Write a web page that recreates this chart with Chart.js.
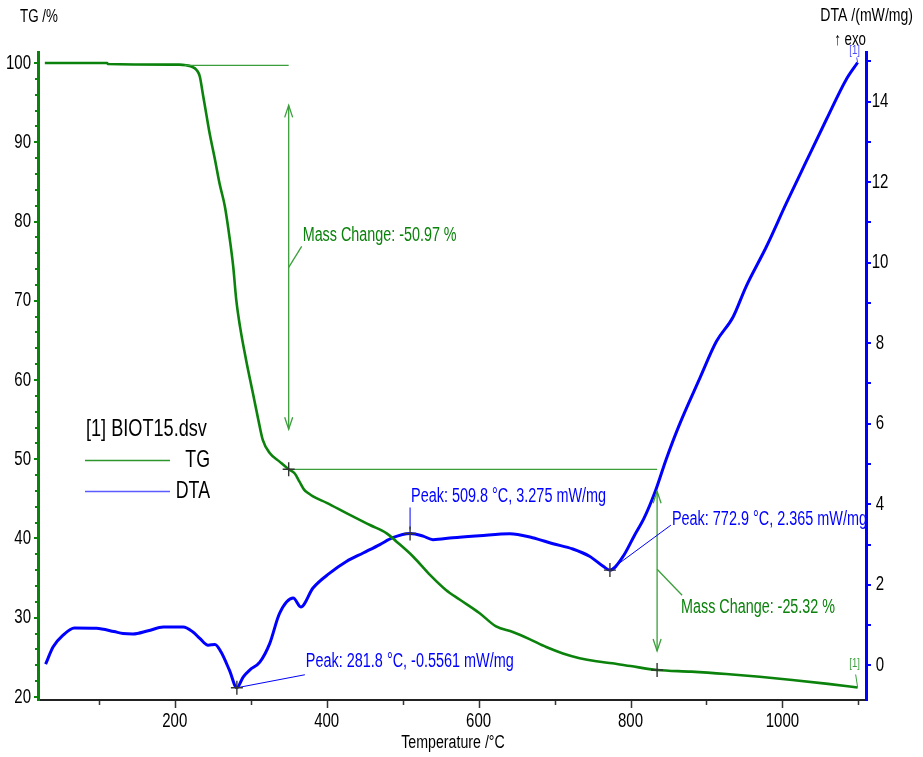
<!DOCTYPE html>
<html>
<head>
<meta charset="utf-8">
<title>BIOT15 TG / DTA</title>
<script src="https://cdn.jsdelivr.net/npm/chart.js@4.4.1/dist/chart.umd.min.js"></script>
<style>
  html, body { margin: 0; padding: 0; background: #ffffff; }
  #wrap { width: 923px; height: 757px; position: relative; }
</style>
</head>
<body>
<div id="wrap"><canvas id="c" width="923" height="757"></canvas></div>
<script>
// ---- measurement data (sample BIOT15) ----
const tgTemp = [29, 111, 112, 206, 215, 222, 229, 233, 237, 242, 246, 253, 259, 266, 272, 277, 281, 286, 294, 303, 310, 316, 325, 338, 350, 358, 364, 370, 376, 382, 400, 426, 457, 479, 492, 514, 536, 557, 575, 601, 623, 645, 667, 689, 711, 733, 755, 776, 800, 835, 880, 926, 970, 1013, 1060, 1099];
const tgMass = [100, 100, 99.87, 99.8, 99.72, 99.55, 99.1, 98.3, 96.1, 93.3, 91.1, 87.8, 84.8, 81.9, 78.1, 74.3, 70.1, 66.7, 62.5, 58.3, 55.0, 52.4, 50.8, 49.7, 48.73, 48.2, 47.2, 46.2, 45.7, 45.3, 44.5, 43.2, 41.7, 40.65, 39.6, 37.7, 35.4, 33.5, 32.3, 30.6, 28.9, 28.2, 27.3, 26.3, 25.5, 24.9, 24.5, 24.25, 23.9, 23.41, 23.2, 22.9, 22.55, 22.15, 21.65, 21.2];

const dtaTemp = [30, 40, 53, 68, 97, 120, 132, 145, 165, 185, 211, 224, 233, 244, 253, 261, 272, 281.8, 290, 299, 312, 325, 338, 356, 366, 382, 404, 426, 448, 470, 487, 509.8, 527, 540, 566, 601, 641, 671, 698, 724, 746, 764, 772.9, 790, 805, 818, 832, 847, 864, 891, 913, 935, 952, 979, 1005, 1031, 1058, 1084, 1099];
const dtaSignal = [0.03, 0.46, 0.75, 0.93, 0.92, 0.84, 0.79, 0.78, 0.86, 0.95, 0.95, 0.83, 0.67, 0.5, 0.52, 0.33, -0.12, -0.5561, -0.29, -0.11, 0.08, 0.54, 1.29, 1.67, 1.45, 1.92, 2.29, 2.58, 2.79, 3.0, 3.17, 3.275, 3.21, 3.12, 3.17, 3.22, 3.27, 3.17, 3.02, 2.89, 2.71, 2.46, 2.365, 2.7, 3.22, 3.66, 4.29, 5.12, 5.96, 7.12, 8.04, 8.65, 9.4, 10.4, 11.47, 12.5, 13.56, 14.55, 14.97];

// evaluated DTA peaks
const peakTemps = [281.8, 509.8, 772.9];
const peakValues = [-0.5561, 3.275, 2.365];

// evaluated mass-change steps
const stepStartMass = 99.70;
const stepTemps = [350, 835];
const stepChanges = [-50.97, -25.32];

// axis ticks
const xTicks = [100, 200, 300, 400, 500, 600, 700, 800, 900, 1000, 1100];
const xLabels = [200, 400, 600, 800, 1000];
const tgTicks = [20, 22, 24, 26, 28, 30, 32, 34, 36, 38, 40, 42, 44, 46, 48, 50, 52, 54, 56, 58, 60, 62, 64, 66, 68, 70, 72, 74, 76, 78, 80, 82, 84, 86, 88, 90, 92, 94, 96, 98, 100];
const tgLabels = [20, 30, 40, 50, 60, 70, 80, 90, 100];
const dtaTicks = [0, 1, 2, 3, 4, 5, 6, 7, 8, 9, 10, 11, 12, 13, 14, 15];
const dtaLabels = [0, 2, 4, 6, 8, 10, 12, 14];

const FONT = '"Liberation Sans", Arial, sans-serif';
const NARROW = 0.74;           // horizontal squeeze for a narrow sans look
const GREEN = '#0b820b';
const GREEN_LIGHT = '#3a9f3a';
const BLUE = '#0000ff';

function pts(xs, ys) { return xs.map((x, i) => ({ x: x, y: ys[i] })); }

// condensed text helper
function text(ctx, str, x, y, size, color, align) {
  ctx.save();
  ctx.translate(x, y);
  ctx.scale(NARROW, 1);
  ctx.font = size + 'px ' + FONT;
  ctx.fillStyle = color;
  ctx.textAlign = align || 'left';
  ctx.textBaseline = 'middle';
  ctx.fillText(str, 0, 0);
  ctx.restore();
}

function arrowHead(ctx, x, y, dir) {
  // dir = -1 points up, +1 points down
  ctx.beginPath();
  ctx.moveTo(x - 4, y - dir * 12);
  ctx.lineTo(x, y);
  ctx.lineTo(x + 4, y - dir * 12);
  ctx.stroke();
}

function cross(ctx, x, y) {
  ctx.save();
  ctx.strokeStyle = '#333333';
  ctx.lineWidth = 1.4;
  ctx.beginPath();
  ctx.moveTo(x - 6, y); ctx.lineTo(x + 6, y);
  ctx.moveTo(x, y - 7); ctx.lineTo(x, y + 7);
  ctx.stroke();
  ctx.restore();
}

const fmtMass = v => v.toFixed(2) + ' %';

const annotations = {
  id: 'thermalAnnotations',
  afterDatasetsDraw(chart) {
    const ctx = chart.ctx;
    const sx = chart.scales.x, sy = chart.scales.y, sd = chart.scales.y2;
    ctx.save();

    // ---- mass change steps ----
    const m1 = stepStartMass + stepChanges[0];
    const m2 = m1 + stepChanges[1];
    const xs1 = sx.getPixelForValue(stepTemps[0]);
    const xs2 = sx.getPixelForValue(stepTemps[1]);
    const yTop = sy.getPixelForValue(stepStartMass);
    const yM1 = sy.getPixelForValue(m1);
    const yM2 = sy.getPixelForValue(m2);

    ctx.strokeStyle = GREEN_LIGHT;
    ctx.lineWidth = 1.3;
    ctx.beginPath();
    ctx.moveTo(sx.getPixelForValue(213), yTop); ctx.lineTo(xs1, yTop);
    ctx.moveTo(xs1, yM1); ctx.lineTo(xs2, yM1);
    ctx.stroke();

    // first step double arrow
    const a1Top = yTop + 40, a1Bot = yM1 - 40;
    ctx.beginPath(); ctx.moveTo(xs1, a1Top); ctx.lineTo(xs1, a1Bot); ctx.stroke();
    arrowHead(ctx, xs1, a1Top, -1);
    arrowHead(ctx, xs1, a1Bot, 1);
    const l1y = (a1Top + a1Bot) / 2;
    ctx.beginPath(); ctx.moveTo(xs1, l1y); ctx.lineTo(xs1 + 13, l1y - 21); ctx.stroke();

    // second step double arrow
    const a2Top = yM1 + 22, a2Bot = yM2 - 19;
    ctx.beginPath(); ctx.moveTo(xs2, a2Top); ctx.lineTo(xs2, a2Bot); ctx.stroke();
    arrowHead(ctx, xs2, a2Top, -1);
    arrowHead(ctx, xs2, a2Bot, 1);
    const l2y = a2Top + 78;
    ctx.beginPath(); ctx.moveTo(xs2, l2y); ctx.lineTo(xs2 + 25, l2y + 26); ctx.stroke();

    text(ctx, 'Mass Change: ' + fmtMass(stepChanges[0]), xs1 + 14, l1y - 32, 19.4, GREEN);
    text(ctx, 'Mass Change: ' + fmtMass(stepChanges[1]), xs2 + 24, l2y + 38, 19.4, GREEN);

    cross(ctx, xs1, yM1);
    cross(ctx, xs2, yM2);

    // ---- DTA peaks ----
    ctx.strokeStyle = BLUE;
    ctx.lineWidth = 1;
    const peakOffsets = [[68, -13, 69, -26], [0, -26, 1, -37], [61, -45, 62, -50]];
    peakTemps.forEach((t, i) => {
      const px = sx.getPixelForValue(t), py = sd.getPixelForValue(peakValues[i]);
      const o = peakOffsets[i];
      ctx.beginPath();
      ctx.moveTo(px, py - (i === 1 ? 4 : 0));
      ctx.lineTo(px + o[0], py + o[1]);
      ctx.stroke();
      text(ctx, 'Peak: ' + t.toFixed(1) + ' \u00B0C, ' + peakValues[i] + ' mW/mg', px + o[2], py + o[3], 19.5, BLUE);
    });
    peakTemps.forEach((t, i) => cross(ctx, sx.getPixelForValue(t), sd.getPixelForValue(peakValues[i])));

    // ---- curve end tags ----
    const tgEndX = sx.getPixelForValue(tgTemp[tgTemp.length - 1]);
    const tgEndY = sy.getPixelForValue(tgMass[tgMass.length - 1]);
    ctx.strokeStyle = GREEN_LIGHT;
    ctx.beginPath(); ctx.moveTo(tgEndX, tgEndY); ctx.lineTo(tgEndX - 2, tgEndY - 13); ctx.stroke();
    text(ctx, '[1]', tgEndX - 3, tgEndY - 24, 13, GREEN_LIGHT, 'center');
    const dEndX = sx.getPixelForValue(dtaTemp[dtaTemp.length - 1]);
    const dEndY = sd.getPixelForValue(dtaSignal[dtaSignal.length - 1]);
    ctx.strokeStyle = '#4a4aff';
    ctx.beginPath(); ctx.moveTo(dEndX, dEndY); ctx.lineTo(dEndX - 1, dEndY - 5); ctx.stroke();
    text(ctx, '[1]', dEndX - 3, dEndY - 12, 13, '#4a4aff', 'center');

    ctx.restore();
  },
  afterDraw(chart) {
    const ctx = chart.ctx;
    const sx = chart.scales.x, sy = chart.scales.y, sd = chart.scales.y2;
    const ca = chart.chartArea;
    ctx.save();

    // tick marks
    ctx.lineWidth = 1.5;
    ctx.strokeStyle = '#333';
    ctx.beginPath();
    xTicks.forEach(v => {
      const px = Math.round(sx.getPixelForValue(v)) + 0.5;
      ctx.moveTo(px, ca.bottom + 1);
      ctx.lineTo(px, ca.bottom + (xLabels.includes(v) ? 8 : 5));
    });
    ctx.stroke();
    ctx.lineWidth = 2;
    ctx.strokeStyle = GREEN;
    ctx.beginPath();
    tgTicks.forEach(v => {
      const py = Math.round(sy.getPixelForValue(v));
      ctx.moveTo(ca.left - 1, py);
      ctx.lineTo(ca.left - (tgLabels.includes(v) ? 4 : 3), py);
    });
    ctx.stroke();
    ctx.strokeStyle = BLUE;
    ctx.beginPath();
    dtaTicks.forEach(v => {
      const py = Math.round(sd.getPixelForValue(v));
      ctx.moveTo(ca.right + 1, py);
      ctx.lineTo(ca.right + 5, py);
    });
    ctx.stroke();

    // tick labels
    xLabels.forEach(v => text(ctx, String(v), sx.getPixelForValue(v), ca.bottom + 21, 20.3, '#000', 'center'));
    tgLabels.forEach(v => text(ctx, String(v), ca.left - 7, sy.getPixelForValue(v), 20.3, '#000', 'right'));
    dtaLabels.forEach(v => text(ctx, String(v), ca.right + 14, sd.getPixelForValue(v), 20.3, '#000', 'center'));

    // axis titles
    text(ctx, 'TG /%', 20, 17, 18.1, '#000');
    text(ctx, 'DTA /(mW/mg)', 913, 16, 19, '#000', 'right');
    text(ctx, '\u2191 exo', 866, 40, 18, '#000', 'right');
    text(ctx, 'Temperature /\u00B0C', 453, 743, 19.2, '#000', 'center');

    // legend
    text(ctx, '[1] BIOT15.dsv', 86, 429, 24.5, '#000');
    text(ctx, 'TG', 210, 460, 24, '#000', 'right');
    text(ctx, 'DTA', 210, 491, 24, '#000', 'right');
    ctx.lineWidth = 1.5;
    ctx.strokeStyle = '#2c962c';
    ctx.beginPath(); ctx.moveTo(85, 460.5); ctx.lineTo(170, 460.5); ctx.stroke();
    ctx.strokeStyle = '#5a5aff';
    ctx.beginPath(); ctx.moveTo(85, 491.5); ctx.lineTo(170, 491.5); ctx.stroke();
    ctx.restore();
  }
};

const hiddenTicks = { autoSkip: false, maxRotation: 0, callback: () => '' };

new Chart(document.getElementById('c'), {
  type: 'line',
  data: {
    datasets: [
      {
        label: 'TG', data: pts(tgTemp, tgMass), yAxisID: 'y',
        borderColor: GREEN, borderWidth: 2.6, pointRadius: 0, fill: false,
        cubicInterpolationMode: 'monotone'
      },
      {
        label: 'DTA', data: pts(dtaTemp, dtaSignal), yAxisID: 'y2',
        borderColor: BLUE, borderWidth: 3, pointRadius: 0, fill: false,
        cubicInterpolationMode: 'monotone'
      }
    ]
  },
  options: {
    responsive: false,
    animation: false,
    devicePixelRatio: 1,
    layout: { padding: { top: 52, left: 0, right: 0, bottom: 0 } },
    plugins: { legend: { display: false }, tooltip: { enabled: false } },
    scales: {
      x: {
        type: 'linear', min: 20, max: 1110,
        afterBuildTicks: s => { s.ticks = xTicks.map(v => ({ value: v })); },
        afterFit: s => { s.height = 57; },
        ticks: hiddenTicks,
        grid: { display: false },
        border: { color: '#222', width: 2 }
      },
      y: {
        type: 'linear', position: 'left', min: 19.62, max: 101.39,
        afterBuildTicks: s => { s.ticks = tgTicks.map(v => ({ value: v })); },
        afterFit: s => { s.width = 38; },
        ticks: hiddenTicks,
        grid: { display: false },
        border: { color: GREEN, width: 3 }
      },
      y2: {
        type: 'linear', position: 'right', min: -0.86, max: 15.23,
        afterBuildTicks: s => { s.ticks = dtaTicks.map(v => ({ value: v })); },
        afterFit: s => { s.width = 57; },
        ticks: hiddenTicks,
        grid: { display: false },
        border: { color: BLUE, width: 3 }
      }
    }
  },
  plugins: [annotations]
});
</script>
</body>
</html>
